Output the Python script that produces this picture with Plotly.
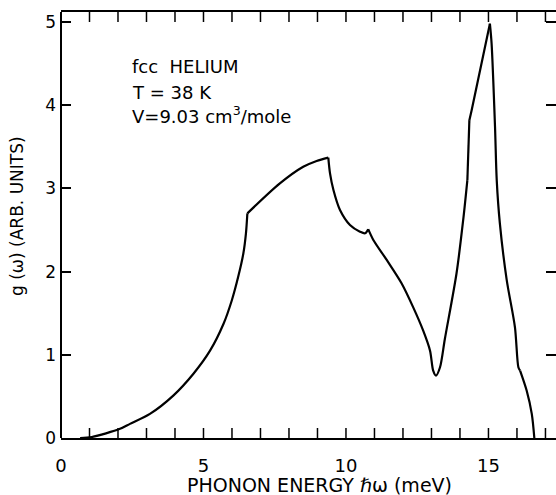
import plotly.graph_objects as go

# Phonon density of states, fcc helium
energy_meV = [0.67, 1.08, 2.07, 2.42, 3.12, 3.94, 4.64, 5.23, 5.70, 5.99, 6.22, 6.40, 6.49, 6.54,
              7.68, 8.50, 8.97, 9.38, 9.44, 9.56, 9.79, 10.14, 10.49, 10.67, 10.78,
              10.96, 11.43, 11.95, 12.36, 12.71, 12.95, 13.06, 13.16, 13.30,
              13.47, 13.88, 14.12, 14.26, 14.33, 14.41, 15.05, 15.11, 15.23,
              15.29, 15.40, 15.64, 15.93, 16.05, 16.11, 16.34, 16.52, 16.61]
g_omega = [0.0, 0.012, 0.11, 0.17, 0.29, 0.51, 0.77, 1.05, 1.37, 1.65, 1.94, 2.22, 2.46, 2.70,
           3.06, 3.26, 3.33, 3.37, 3.18, 2.98, 2.74, 2.56, 2.48, 2.46, 2.51,
           2.38, 2.14, 1.86, 1.57, 1.29, 1.05, 0.81, 0.75, 0.85,
           1.19, 1.98, 2.64, 3.10, 3.82, 3.94, 4.98, 4.74, 3.74,
           3.10, 2.58, 1.90, 1.33, 0.85, 0.81, 0.57, 0.29, 0.0]
# indices of the sharp corners (van Hove singularities) that split smooth pieces
kink_index = [0, 13, 17, 24, 37, 38, 40, 48, 51]
piece_shape = ["spline", "spline", "spline", "spline", "linear", "linear", "spline", "spline"]

x_tick_vals = list(range(0, 18))
x_tick_text = [str(v) if v % 5 == 0 else "" for v in x_tick_vals]
y_tick_vals = [0, 1, 2, 3, 4, 5]

info_lines = ["fcc  HELIUM", "T = 38 K", "V=9.03 cm<sup>3</sup>/mole"]
x_title = "PHONON ENERGY ℏω (meV)"
y_title = "g (ω) (ARB. UNITS)"

FONT = "DejaVu Sans"
TICK_LEN = 10
Y_RANGE = [0, 5.12]
PLOT_H_PX = 426

fig = go.Figure()
for a, b, shp in zip(kink_index[:-1], kink_index[1:], piece_shape):
    fig.add_trace(go.Scatter(x=energy_meV[a:b + 1], y=g_omega[a:b + 1], mode="lines",
                             line=dict(color="black", width=2.2, shape=shp, smoothing=0.8),
                             showlegend=False, hoverinfo="skip"))

# inward x tick marks on bottom and top frame, derived from the tick list
tick_dy = TICK_LEN * (Y_RANGE[1] - Y_RANGE[0]) / PLOT_H_PX
tx, ty = [], []
for v in x_tick_vals:
    tx += [v, v, None, v, v, None]
    ty += [Y_RANGE[0], Y_RANGE[0] + tick_dy, None, Y_RANGE[1] - tick_dy, Y_RANGE[1], None]
fig.add_trace(go.Scatter(x=tx, y=ty, mode="lines", line=dict(color="black", width=1.5),
                         showlegend=False, hoverinfo="skip"))

fig.update_layout(
    width=556, height=495,
    margin=dict(l=61, r=0, t=12, b=57),
    paper_bgcolor="white", plot_bgcolor="white",
    font=dict(family=FONT, color="black"),
    xaxis=dict(
        range=[0, 17.37], tickmode="array", tickvals=x_tick_vals, ticktext=x_tick_text,
        ticks="", showline=True, linecolor="black", linewidth=2, mirror=True,
        showgrid=False, zeroline=False,
        tickfont=dict(size=18, family=FONT), ticklabelstandoff=10,
    ),
    yaxis=dict(
        range=Y_RANGE, tickmode="array", tickvals=y_tick_vals, ticks="inside",
        ticklen=TICK_LEN, tickwidth=1.5, tickcolor="black", showline=False, mirror="ticks",
        showgrid=False, zeroline=False, tickfont=dict(size=17, family=FONT),
        ticklabelstandoff=4,
    ),
)
# left spine
fig.add_shape(type="line", xref="paper", yref="paper", x0=0, x1=0, y0=0, y1=1,
              line=dict(color="black", width=2))

# info text
for txt, ypix in zip(info_lines, [66, 92.5, 115]):
    fig.add_annotation(x=2.42, xref="x", y=(437.7 - ypix) / 83.2, yref="y",
                       text=txt, showarrow=False, xanchor="left", yanchor="middle",
                       font=dict(size=18, family=FONT, color="black"))

fig.add_annotation(x=(319 - 61) / 495, xref="paper", y=-(485 - 438) / 426, yref="paper",
                   text=x_title, showarrow=False, xanchor="center", yanchor="middle",
                   font=dict(size=19, family=FONT, color="black"))
fig.add_annotation(x=-(61 - 17) / 495, xref="paper", y=(438 - 216) / 426, yref="paper",
                   text=y_title, showarrow=False, textangle=-90, xanchor="center",
                   yanchor="middle", font=dict(size=17, family=FONT, color="black"))

fig.write_html("out.html")
